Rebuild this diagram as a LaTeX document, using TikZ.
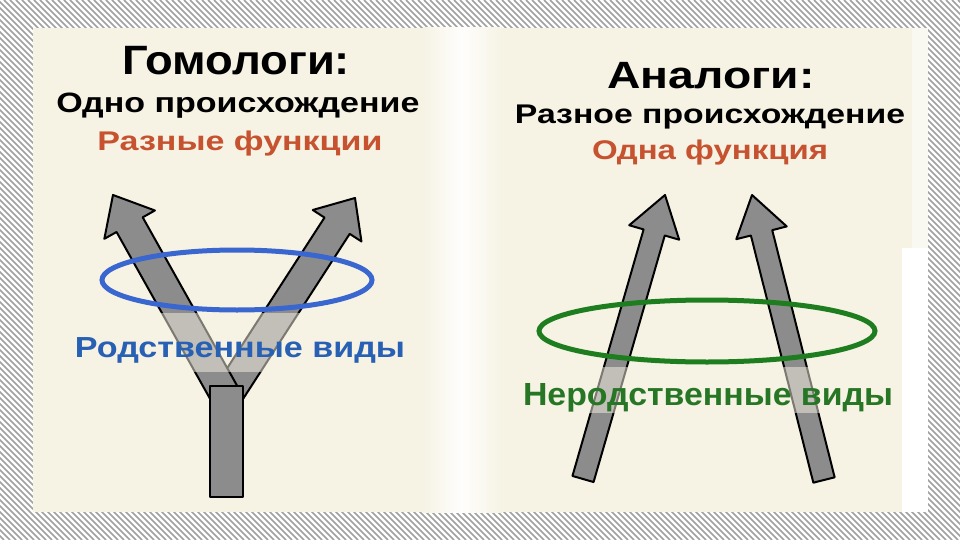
\documentclass[tikz,border=0pt]{standalone}
\usepackage{fontspec}
\setmainfont{Liberation Sans}
\usepackage{graphicx}
\usetikzlibrary{calc}
\definecolor{bgbeige}{RGB}{246,243,228}
\definecolor{hatchgray}{RGB}{160,160,160}
\definecolor{txtred}{RGB}{198,82,48}
\definecolor{txtblue}{RGB}{40,96,180}
\definecolor{txtgreen}{RGB}{38,118,38}
\definecolor{ellblue}{RGB}{58,102,208}
\definecolor{ellgreen}{RGB}{30,125,30}
\definecolor{arrowgray}{RGB}{140,140,140}
\newcommand{\fitw}[3]{\resizebox{#1pt}{\height}{\fontsize{#2pt}{#2pt}\selectfont\bfseries #3}}
\tikzset{
  hatchline/.style={hatchgray, line width=1.6pt},
  arrowbody/.style={fill=arrowgray, draw=black, line width=2pt, line join=round},
  txt/.style={anchor=base, inner sep=0pt},
  band/.style={fill=bgbeige, opacity=0.5},
}
\newcommand{\grayarrow}[5]{% base, tip, shaft half, head half, head length
  \coordinate (hb) at ($(#2)!#5pt!(#1)$);
  \draw[arrowbody] ($(#1)!#3pt!90:(#2)$) -- ($(hb)!#3pt!90:(#2)$) -- ($(hb)!#4pt!90:(#2)$)
    -- (#2) -- ($(hb)!#4pt!-90:(#2)$) -- ($(hb)!#3pt!-90:(#2)$) -- ($(#1)!#3pt!-90:(#2)$) -- cycle;
}
\begin{document}
\begin{tikzpicture}[x=1pt,y=-1pt]
\useasboundingbox (0,0) rectangle (960,540);
% hatched background
\fill[white] (0,0) rectangle (960,540);
\begin{scope}
  \clip (0,0) rectangle (960,540);
  \foreach \i in {-560,-554,...,960} \draw[hatchline] (\i,0) -- (\i+540,540);
\end{scope}
% panel
\fill[bgbeige] (33,28) rectangle (928,512);
\shade[left color=bgbeige, right color=white!92!bgbeige] (423,28) rectangle (462,512);
\shade[left color=white!92!bgbeige, right color=bgbeige] (462,28) rectangle (502,512);
\fill[white!50!bgbeige] (912,28) rectangle (928,248);
\fill[white] (902,248) rectangle (928,512);

% left: homologs arrows
\coordinate (lbaseL) at (224,393);
\coordinate (ltipL) at (113,195);
\coordinate (lbaseR) at (229,393);
\coordinate (ltipR) at (355,198);
\coordinate (stemNW) at (210,386);
\coordinate (stemSE) at (243,497);
\grayarrow{lbaseR}{ltipR}{15}{29}{33}
\grayarrow{lbaseL}{ltipL}{15}{29}{34}
\draw[arrowbody] (stemNW) rectangle (stemSE);

% right: analogs arrows
\coordinate (rbaseA) at (583,479);
\coordinate (rtipA) at (665,195);
\coordinate (rbaseB) at (824,480);
\coordinate (rtipB) at (752,195);
\grayarrow{rbaseA}{rtipA}{11}{26}{39}
\grayarrow{rbaseB}{rtipB}{11}{26}{39}

% ellipses
\draw[ellblue, line width=5pt] (237,280) ellipse [x radius=135pt, y radius=30pt];
\draw[ellgreen, line width=5pt] (707,331) ellipse [x radius=168pt, y radius=31pt];

% translucent bands behind labels
\fill[band] (68,313) rectangle (412,372);
\fill[band] (518,367) rectangle (897,413);

% texts left
\node[txt] (hom) at (236,75) {\fitw{228}{41}{Гомологи:}};
\node[txt] (homo) at (238,113) {\fitw{363}{28}{Одно происхождение}};
\node[txt, text=txtred] (homf) at (240,151) {\fitw{285}{27}{Разные функции}};
\node[txt, text=txtblue] (homl) at (240,357) {\fitw{330}{29}{Родственные виды}};

% texts right
\node[txt] (ana) at (711,89) {\fitw{207}{38}{Аналоги:}};
\node[txt] (anao) at (710,124) {\fitw{390}{27}{Разное происхождение}};
\node[txt, text=txtred] (anaf) at (710,160) {\fitw{236}{27}{Одна функция}};
\node[txt, text=txtgreen] (anal) at (708,405) {\fitw{370}{32}{Неродственные виды}};
\end{tikzpicture}
\end{document}
